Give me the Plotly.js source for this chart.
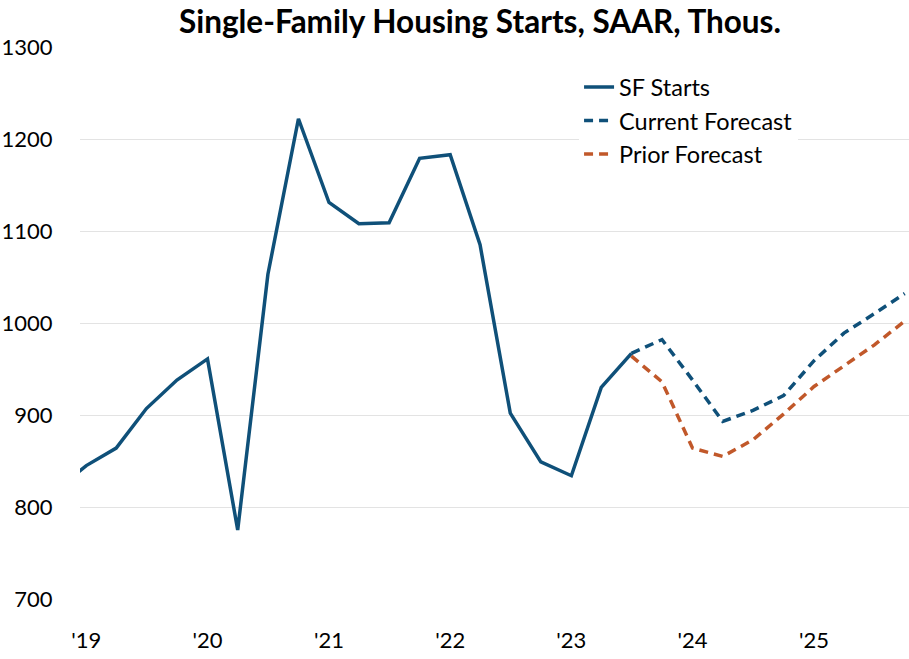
<!DOCTYPE html>
<html>
<head>
<meta charset="utf-8">
<script src="https://cdn.plot.ly/plotly-3.0.1.min.js"></script>
<style>html,body{margin:0;padding:0;background:#fff;}#chart{width:909px;height:659px;}</style>
</head>
<body>
<div id="chart"></div>
<script>
// Quarterly dates (quarter start)
const actualDates = ['2018-10-01','2019-01-01','2019-04-01','2019-07-01','2019-10-01',
  '2020-01-01','2020-04-01','2020-07-01','2020-10-01',
  '2021-01-01','2021-04-01','2021-07-01','2021-10-01',
  '2022-01-01','2022-04-01','2022-07-01','2022-10-01',
  '2023-01-01','2023-04-01','2023-07-01'];
const sfStarts = [818, 845, 864, 907, 938, 961, 775, 1053, 1222, 1131, 1108, 1109, 1179, 1183, 1085, 902, 849, 834, 930, 967];

const forecastDates = ['2023-07-01','2023-10-01','2024-01-01','2024-04-01','2024-07-01','2024-10-01',
  '2025-01-01','2025-04-01','2025-07-01','2025-10-01'];
const currentForecast = [967, 982, 938, 893, 905, 921, 959, 989, 1010, 1032];
const priorForecast = [964, 936, 864, 855, 873, 901, 931, 953, 976, 1002];

const yTicks = [700, 800, 900, 1000, 1100, 1200, 1300];
const titleText = 'Single-Family Housing Starts, SAAR, Thous.';

const blue = '#0f5079';
const orange = '#c1582a';
const FONT = 'Lato, "Noto Sans", sans-serif';

const traces = [
  {x: actualDates, y: sfStarts, name: 'SF Starts', type: 'scatter', mode: 'lines',
   line: {color: blue, width: 3.5}},
  {x: forecastDates, y: currentForecast, name: 'Current Forecast', type: 'scatter', mode: 'lines',
   line: {color: blue, width: 3.5, dash: '9px,6px'}},
  {x: forecastDates, y: priorForecast, name: 'Prior Forecast', type: 'scatter', mode: 'lines',
   line: {color: orange, width: 3.5, dash: '9px,6px'}}
];

const layout = {
  width: 909, height: 659,
  margin: {l: 80, r: 0, t: 47, b: 60},
  paper_bgcolor: '#fff', plot_bgcolor: '#fff',
  font: {family: FONT, color: '#000', size: 22},
  title: {text: '<b>' + titleText + '</b>', x: 0.528, xanchor: 'center', y: 0.966, yanchor: 'middle',
          font: {family: FONT, size: 31.5, color: '#000'}},
  showlegend: true,
  legend: {x: 0.602, y: 0.967, xanchor: 'left', yanchor: 'top', bgcolor: '#fff',
           font: {family: FONT, size: 23.5, color: '#000'}, traceorder: 'normal'},
  xaxis: {type: 'date', range: ['2018-12-13', '2025-10-14'], dtick: 'M12', tick0: '2019-01-01',
          tickformat: "'%y", showgrid: false, zeroline: false, showline: false,
          ticks: 'outside', ticklen: 22, tickcolor: 'rgba(0,0,0,0)',
          tickfont: {family: FONT, size: 22, color: '#000'}},
  yaxis: {range: [700, 1300], tickvals: yTicks, showgrid: true, gridcolor: '#e3e3e3', gridwidth: 1,
          zeroline: false, showline: false, ticks: 'outside', ticklen: 22, tickcolor: 'rgba(0,0,0,0)',
          tickfont: {family: FONT, size: 22, color: '#000'}}
};

Plotly.newPlot('chart', traces, layout, {displayModeBar: false, staticPlot: true});
</script>
</body>
</html>
